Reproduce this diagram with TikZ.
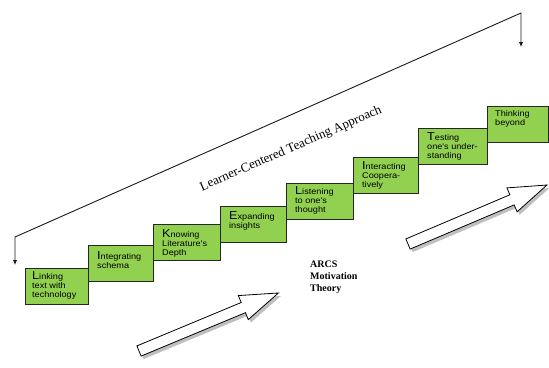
\documentclass[tikz,border=0pt]{standalone}
\usepackage{fontspec}
\setmainfont{Liberation Serif}
\newfontfamily\boxfont[FakeStretch=1.1]{Liberation Sans}
\usetikzlibrary{arrows.meta}
\definecolor{boxgreen}{HTML}{92D050}
\newcommand\BL[1]{{\fontsize{11.5}{9}\selectfont #1}}
\newcommand\blockarrow[4]{%
  \begin{scope}[shift={(#1+2.5,#2+3)},rotate=#3]
    \fill[gray!50] (0,-5.5) -- (#4-38,-5.5) -- (#4-38,-13) -- (#4,0) -- (#4-38,13) -- (#4-38,5.5) -- (0,5.5) -- cycle;
  \end{scope}
  \begin{scope}[shift={(#1,#2)},rotate=#3]
    \filldraw[fill=white,draw=black,line width=0.8pt,line join=miter] (0,-5.5) -- (#4-38,-5.5) -- (#4-38,-13) -- (#4,0) -- (#4-38,13) -- (#4-38,5.5) -- (0,5.5) -- cycle;
  \end{scope}}
\begin{document}
\begin{tikzpicture}[x=1pt,y=-1pt,
  stepbox/.style={draw=black!85,line width=0.8pt,fill=boxgreen,anchor=north west,inner sep=0pt,minimum height=35.5pt},
  boxtext/.style={anchor=north west,inner sep=0pt,align=left,font=\boxfont\fontsize{8.3}{9}\selectfont},
  conn/.style={line width=0.9pt,black!90}]
\useasboundingbox (0,0) rectangle (549,367);
% steps
\node[stepbox,minimum width=63pt] (b1) at (25,268) {};
\node[stepbox,minimum width=65pt] (b2) at (88,245) {};
\node[stepbox,minimum width=67pt] (b3) at (153,224) {};
\node[stepbox,minimum width=66pt] (b4) at (220,206) {};
\node[stepbox,minimum width=67pt] (b5) at (286,183) {};
\node[stepbox,minimum width=65pt] (b6) at (353,157) {};
\node[stepbox,minimum width=69pt] (b7) at (418,128) {};
\node[stepbox,minimum width=61pt] (b8) at (487,106) {};
\node[boxtext] (t1) at ([xshift=7pt,yshift=-3pt]b1.north west) {\BL{L}inking\\text with\\technology};
\node[boxtext] (t2) at ([xshift=9pt,yshift=-6pt]b2.north west) {\BL{I}ntegrating\\schema};
\node[boxtext] (t3) at ([xshift=9pt,yshift=-5pt]b3.north west) {\BL{K}nowing\\Literature's\\Depth};
\node[boxtext] (t4) at ([xshift=9pt,yshift=-5pt]b4.north west) {\BL{E}xpanding\\insights};
\node[boxtext] (t5) at ([xshift=9pt,yshift=-3pt]b5.north west) {\BL{L}istening\\to one's\\thought};
\node[boxtext] (t6) at ([xshift=9pt,yshift=-4pt]b6.north west) {\BL{I}nteracting\\Coopera-\\tively};
\node[boxtext] (t7) at ([xshift=9pt,yshift=-4pt]b7.north west) {\BL{T}esting\\one's under-\\standing};
\node[boxtext] (t8) at ([xshift=8pt,yshift=-4pt]b8.north west) {Thinking\\beyond};
% long bracket line
\coordinate (la) at (15,265);
\coordinate (lc) at (15,237);
\coordinate (rc) at (521,13);
\coordinate (ra) at (521,47);
\draw[conn,{Latex[length=5pt,width=4.5pt]}-{Latex[length=5pt,width=4.5pt]}] (la) -- (lc) -- (rc) -- (ra);
\node[rotate=23.5,font=\fontsize{13}{13}\selectfont,inner sep=0pt] (title) at (291,149) {Learner-Centered Teaching Approach};
\node[anchor=north west,inner sep=0pt,align=left,font=\bfseries\fontsize{10}{12}\selectfont] (arcs) at (310,261) {ARCS\\Motivation\\Theory};
% block arrows
\blockarrow{139}{351}{22.6}{151}
\blockarrow{408}{244}{23}{151}
\end{tikzpicture}
\end{document}
